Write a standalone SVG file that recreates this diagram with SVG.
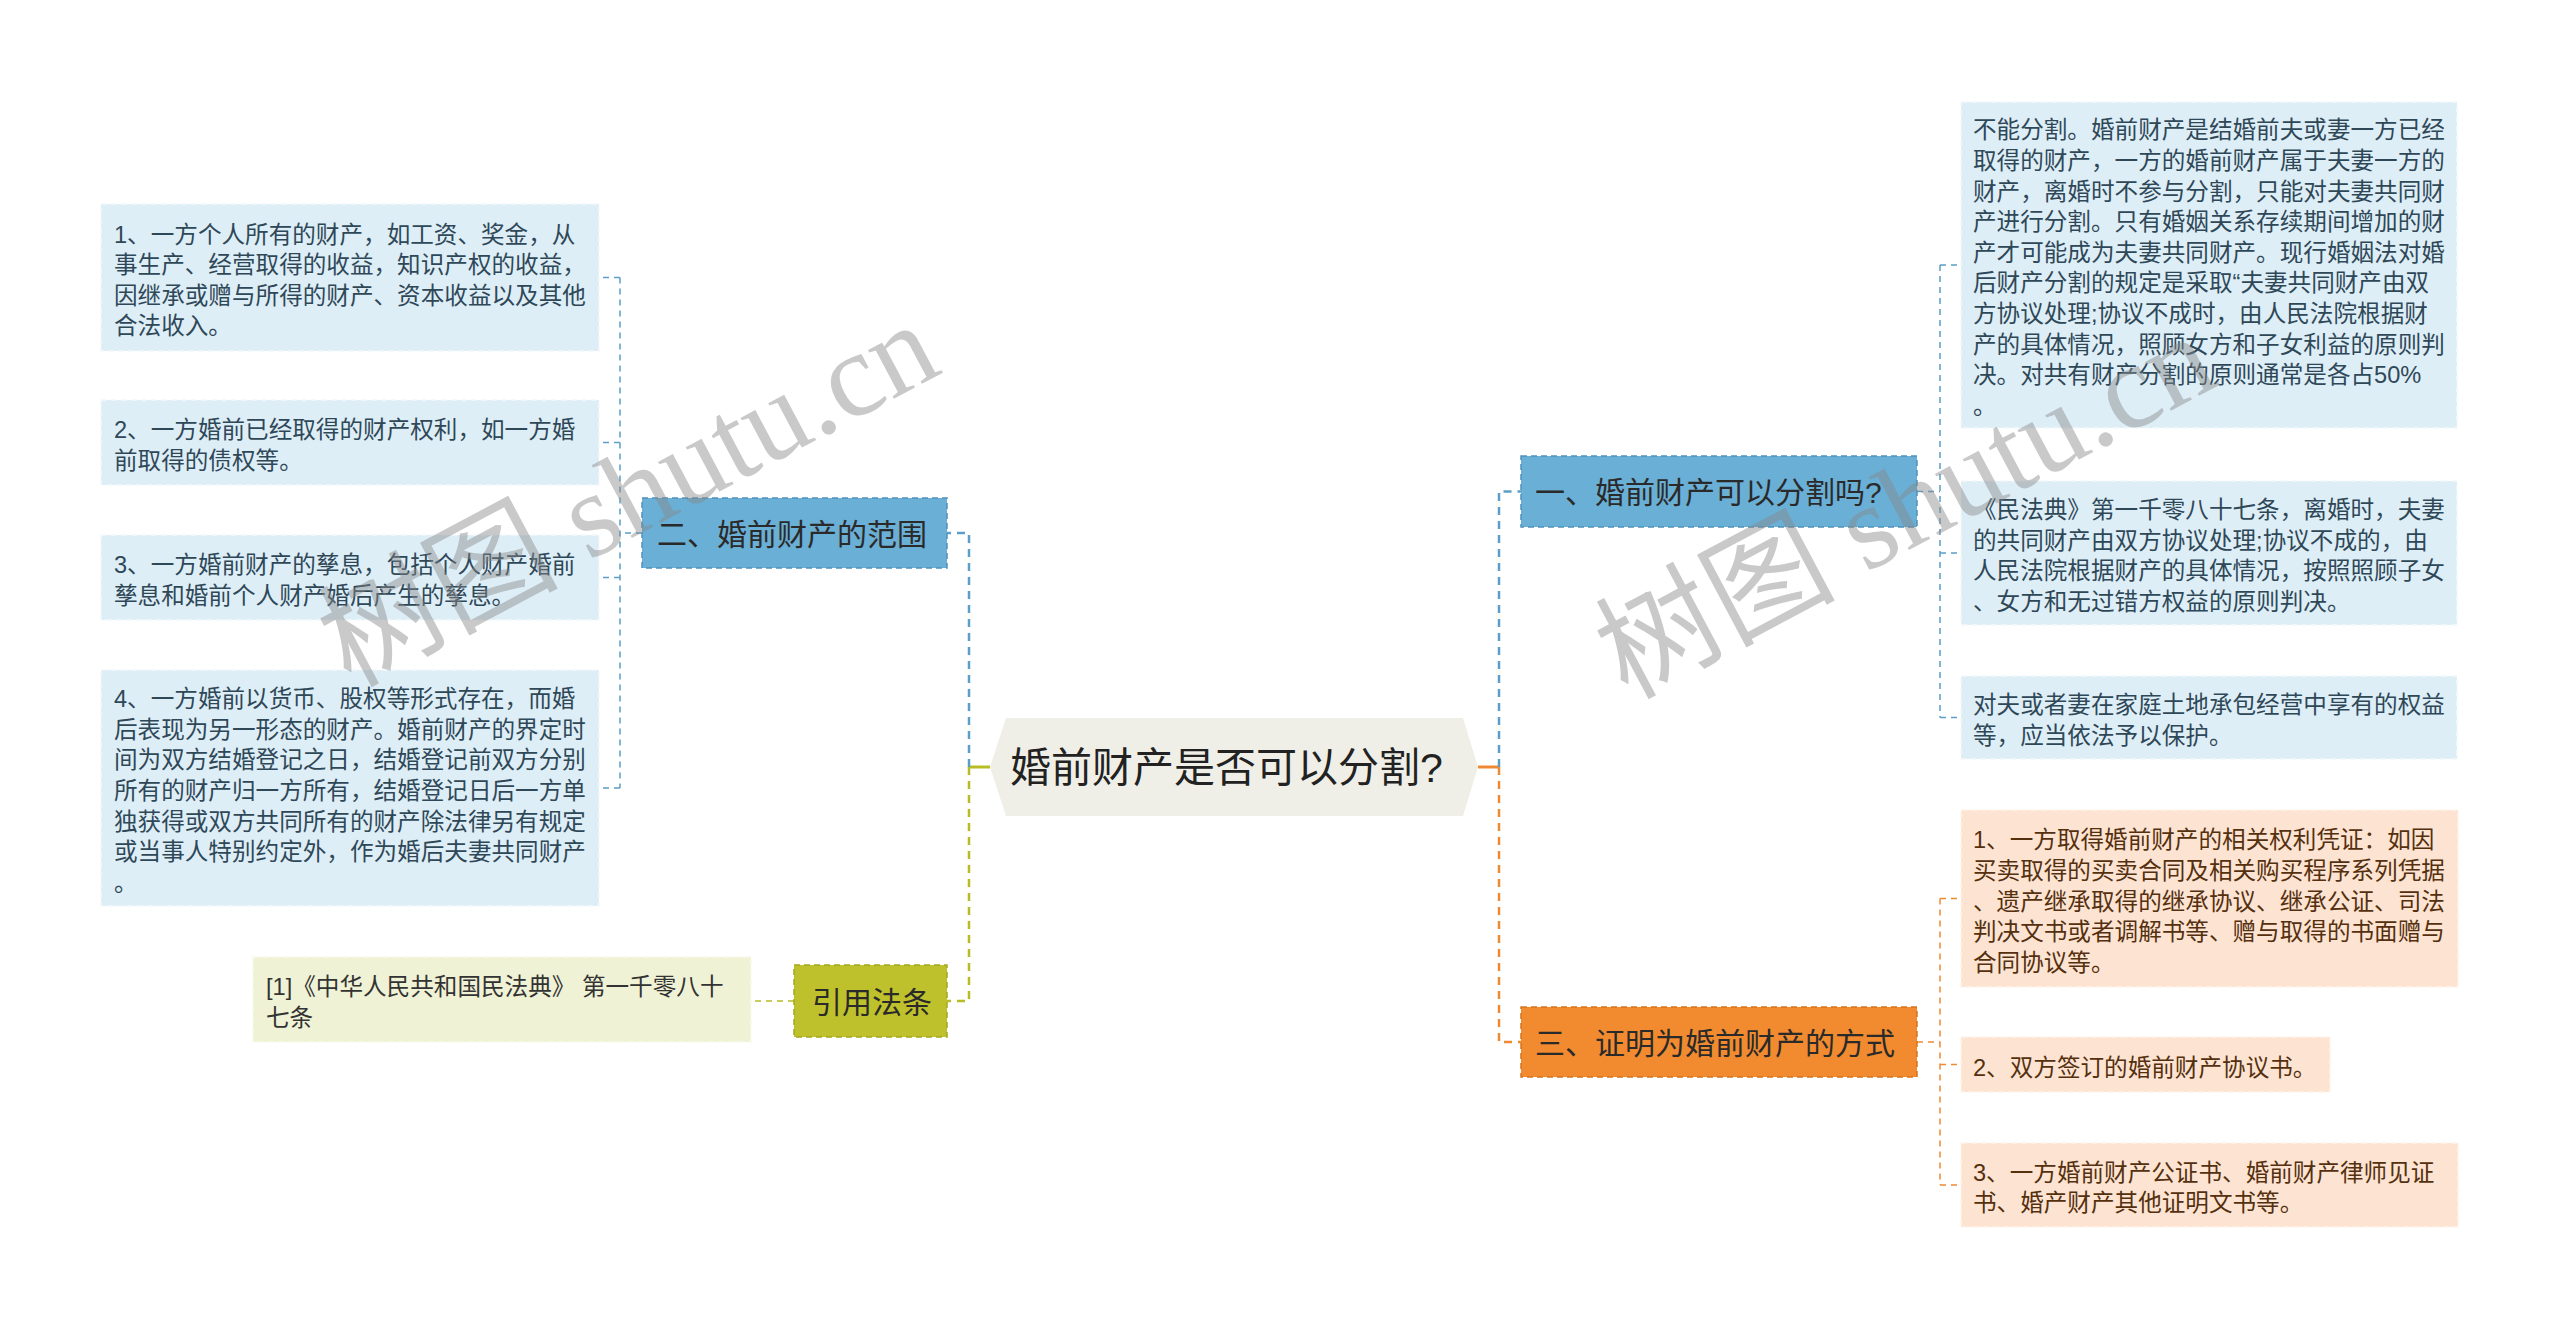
<svg xmlns="http://www.w3.org/2000/svg" width="2560" height="1329" viewBox="0 0 2560 1329">
<style>
text{font-family:"Liberation Sans","Noto Sans CJK SC",sans-serif;dominant-baseline:central}
.leafB rect{fill:#deeef7;stroke:#f4f9fc;stroke-width:1.5;stroke-dasharray:6 4}
.leafO rect{fill:#fde4d2;stroke:#fff3ea;stroke-width:1.5;stroke-dasharray:6 4}
.leafG rect{fill:#f0f2d5;stroke:#f9faec;stroke-width:1.5;stroke-dasharray:6 4}
.leafB text,.leafO text,.leafG text{font-size:23.6px;transform:translate(0px,3px)}
.leafB text{fill:#2f4858}
.leafO text{fill:#55300f}
.leafG text{fill:#333}
.nB rect{fill:#6aafd5;stroke:#4f93bd;stroke-width:1.5;stroke-dasharray:6 4}
.nO rect{fill:#f28b2f;stroke:#d9741c;stroke-width:1.5;stroke-dasharray:6 4}
.nG rect{fill:#bec12b;stroke:#a5a81c;stroke-width:1.5;stroke-dasharray:6 4}
.main text{fill:#2a2a2a;font-size:30px}
.c{fill:none;stroke-width:2.5;stroke-dasharray:8 6}
.t{fill:none;stroke-width:1.5;stroke-dasharray:6 5}
.s{fill:none;stroke-width:3}
.blue{stroke:#5b9fc8}.orange{stroke:#ee8a33}.green{stroke:#b8bc25}
.wm{font-family:"Liberation Serif","Noto Sans CJK SC",serif;font-size:120px;fill:#888;fill-opacity:0.45;dominant-baseline:alphabetic}
</style>
<rect width="2560" height="1329" fill="#ffffff"/>

<g id="connectors">
  <path class="s green" d="M990 767 H969"/>
  <path class="c blue" d="M969 767 V533 H947"/>
  <path class="c green" d="M969 767 V1001 H947"/>
  <path class="s orange" d="M1478 767 H1499"/>
  <path class="c blue" d="M1499 767 V491.5 H1521"/>
  <path class="c orange" d="M1499 767 V1042 H1521"/>
  <path class="t blue" d="M642 533 H620"/>
  <path class="t blue" d="M620 277.5 V788"/>
  <path class="t blue" d="M620 277.5 H599"/>
  <path class="t blue" d="M620 442.5 H599"/>
  <path class="t blue" d="M620 577.5 H599"/>
  <path class="t blue" d="M620 788 H599"/>
  <path class="t green" d="M794 1001 H751"/>
  <path class="t blue" d="M1917 491.5 H1940"/>
  <path class="t blue" d="M1940 265 V717.5"/>
  <path class="t blue" d="M1940 265 H1961"/>
  <path class="t blue" d="M1940 553 H1961"/>
  <path class="t blue" d="M1940 717.5 H1961"/>
  <path class="t orange" d="M1917 1042 H1940"/>
  <path class="t orange" d="M1940 898.5 V1185"/>
  <path class="t orange" d="M1940 898.5 H1961"/>
  <path class="t orange" d="M1940 1064.5 H1961"/>
  <path class="t orange" d="M1940 1185 H1961"/>
</g>

<g id="center">
  <polygon points="990,767 1006,718 1463,718 1478,767 1463,816 1006,816" fill="#efefe7"/>
  <text x="1010" y="768" font-size="41" fill="#222">婚前财产是否可以分割?</text>
</g>

<g id="n2" class="main nB">
  <rect x="642" y="498" width="305" height="70"/>
  <text x="657" y="534">二、婚前财产的范围</text>
</g>
<g id="nLaw" class="main nG">
  <rect x="794" y="965" width="153" height="72"/>
  <text x="812" y="1002">引用法条</text>
</g>
<g id="n1" class="main nB">
  <rect x="1521" y="456" width="396" height="71"/>
  <text x="1535" y="492.5">一、婚前财产可以分割吗?</text>
</g>
<g id="n3" class="main nO">
  <rect x="1521" y="1007" width="396" height="70"/>
  <text x="1535" y="1043">三、证明为婚前财产的方式</text>
</g>

<g id="l2a" class="leafB">
  <rect x="101" y="204" width="498" height="147"/>
  <text x="114" y="231.6">1、一方个人所有的财产，如工资、奖金，从</text>
  <text x="114" y="262.2">事生产、经营取得的收益，知识产权的收益，</text>
  <text x="114" y="292.8">因继承或赠与所得的财产、资本收益以及其他</text>
  <text x="114" y="323.4">合法收入。</text>
</g>
<g id="l2b" class="leafB">
  <rect x="101" y="400" width="498" height="85"/>
  <text x="114" y="427.2">2、一方婚前已经取得的财产权利，如一方婚</text>
  <text x="114" y="457.8">前取得的债权等。</text>
</g>
<g id="l2c" class="leafB">
  <rect x="101" y="535" width="498" height="85"/>
  <text x="114" y="562.2">3、一方婚前财产的孳息，包括个人财产婚前</text>
  <text x="114" y="592.8">孳息和婚前个人财产婚后产生的孳息。</text>
</g>
<g id="l2d" class="leafB">
  <rect x="101" y="670" width="498" height="236"/>
  <text x="114" y="696.2">4、一方婚前以货币、股权等形式存在，而婚</text>
  <text x="114" y="726.8">后表现为另一形态的财产。婚前财产的界定时</text>
  <text x="114" y="757.4">间为双方结婚登记之日，结婚登记前双方分别</text>
  <text x="114" y="788">所有的财产归一方所有，结婚登记日后一方单</text>
  <text x="114" y="818.6">独获得或双方共同所有的财产除法律另有规定</text>
  <text x="114" y="849.2">或当事人特别约定外，作为婚后夫妻共同财产</text>
  <text x="114" y="879.8">。</text>
</g>
<g id="lLaw" class="leafG">
  <rect x="253" y="957" width="498" height="85"/>
  <text x="266" y="984.2">[1]《中华人民共和国民法典》 第一千零八十</text>
  <text x="266" y="1014.8">七条</text>
</g>

<g id="l1a" class="leafB">
  <rect x="1961" y="102" width="496" height="326"/>
  <text x="1973" y="127.3">不能分割。婚前财产是结婚前夫或妻一方已经</text>
  <text x="1973" y="157.9">取得的财产，一方的婚前财产属于夫妻一方的</text>
  <text x="1973" y="188.5">财产，离婚时不参与分割，只能对夫妻共同财</text>
  <text x="1973" y="219.1">产进行分割。只有婚姻关系存续期间增加的财</text>
  <text x="1973" y="249.7">产才可能成为夫妻共同财产。现行婚姻法对婚</text>
  <text x="1973" y="280.3">后财产分割的规定是采取“夫妻共同财产由双</text>
  <text x="1973" y="310.9">方协议处理;协议不成时，由人民法院根据财</text>
  <text x="1973" y="341.5">产的具体情况，照顾女方和子女利益的原则判</text>
  <text x="1973" y="372.1">决。对共有财产分割的原则通常是各占50%</text>
  <text x="1973" y="402.7">。</text>
</g>
<g id="l1b" class="leafB">
  <rect x="1961" y="481" width="496" height="144"/>
  <text x="1973" y="507.1">《民法典》第一千零八十七条，离婚时，夫妻</text>
  <text x="1973" y="537.7">的共同财产由双方协议处理;协议不成的，由</text>
  <text x="1973" y="568.3">人民法院根据财产的具体情况，按照照顾子女</text>
  <text x="1973" y="598.9">、女方和无过错方权益的原则判决。</text>
</g>
<g id="l1c" class="leafB">
  <rect x="1961" y="676" width="496" height="83"/>
  <text x="1973" y="702.2">对夫或者妻在家庭土地承包经营中享有的权益</text>
  <text x="1973" y="732.8">等，应当依法予以保护。</text>
</g>

<g id="l3a" class="leafO">
  <rect x="1961" y="810" width="497" height="177"/>
  <text x="1973" y="837.3">1、一方取得婚前财产的相关权利凭证：如因</text>
  <text x="1973" y="867.9">买卖取得的买卖合同及相关购买程序系列凭据</text>
  <text x="1973" y="898.5">、遗产继承取得的继承协议、继承公证、司法</text>
  <text x="1973" y="929.1">判决文书或者调解书等、赠与取得的书面赠与</text>
  <text x="1973" y="959.7">合同协议等。</text>
</g>
<g id="l3b" class="leafO">
  <rect x="1961" y="1037" width="369" height="55"/>
  <text x="1973" y="1064.5">2、双方签订的婚前财产协议书。</text>
</g>
<g id="l3c" class="leafO">
  <rect x="1961" y="1143" width="497" height="84"/>
  <text x="1973" y="1169.7">3、一方婚前财产公证书、婚前财产律师见证</text>
  <text x="1973" y="1200.3">书、婚产财产其他证明文书等。</text>
</g>

<g id="watermarks">
  <text class="wm" x="350" y="688" transform="rotate(-28 350 688)">树图 shutu.cn</text>
  <text class="wm" x="1627" y="700" transform="rotate(-28 1627 700)">树图 shutu.cn</text>
</g>
</svg>
